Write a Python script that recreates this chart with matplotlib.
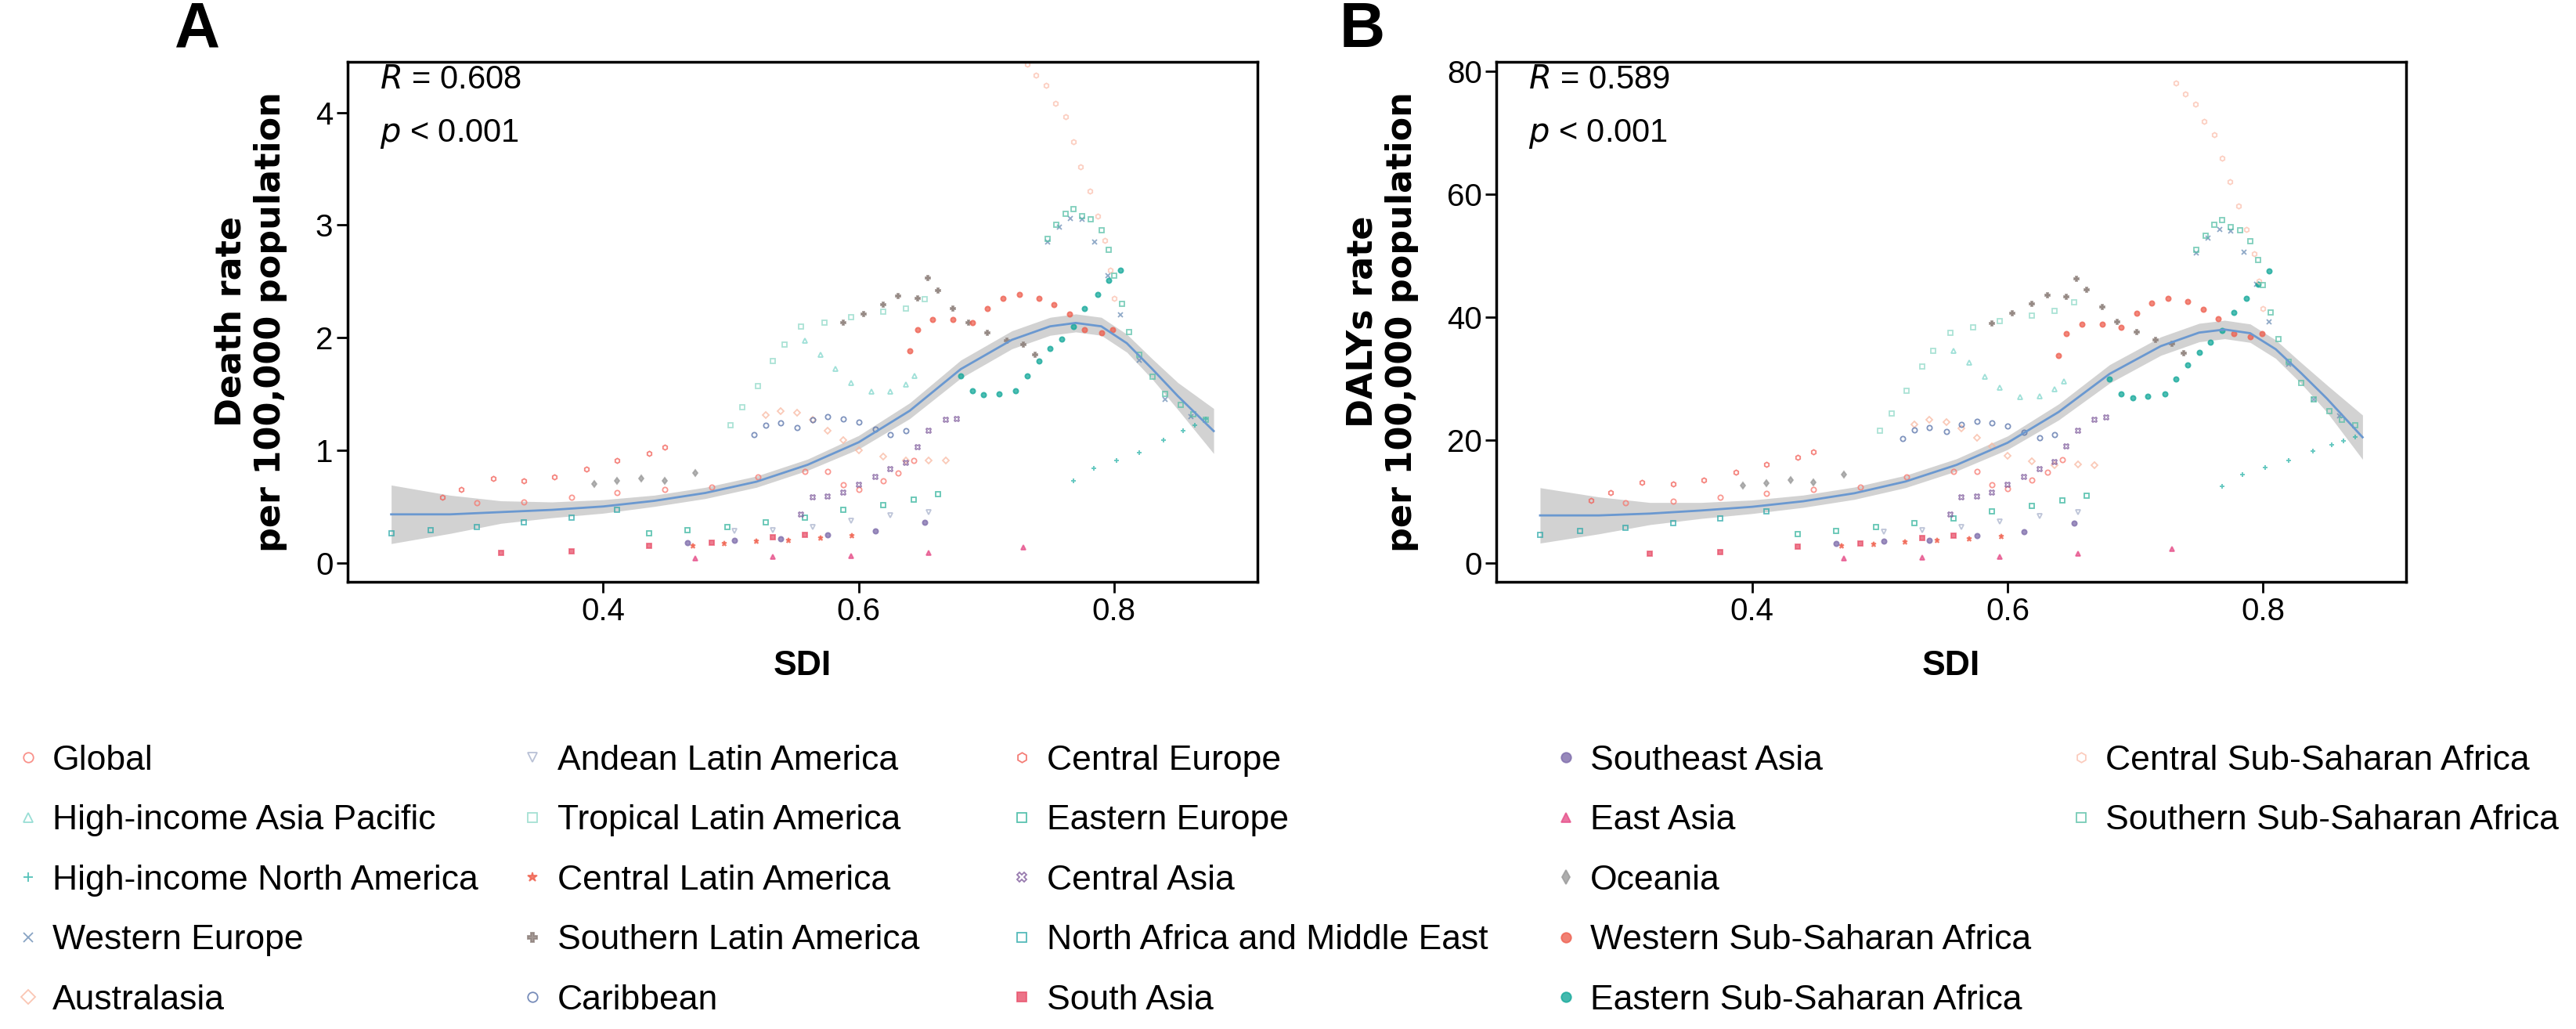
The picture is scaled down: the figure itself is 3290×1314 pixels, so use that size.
import matplotlib.pyplot as plt
import numpy as np

plt.rcParams['font.family'] = ['Liberation Sans', 'DejaVu Sans']

regions = ["Global", "High-income Asia Pacific", "High-income North America", "Western Europe",
           "Australasia", "Andean Latin America", "Tropical Latin America", "Central Latin America",
           "Southern Latin America", "Caribbean", "Central Europe", "Eastern Europe", "Central Asia",
           "North Africa and Middle East", "South Asia", "Southeast Asia", "East Asia", "Oceania",
           "Western Sub-Saharan Africa", "Eastern Sub-Saharan Africa", "Central Sub-Saharan Africa",
           "Southern Sub-Saharan Africa"]
colors = ["#F8766D", "#7FD6CB", "#2BB3A8", "#6A8CB5", "#F9B8A0", "#A8B2CC", "#8FD9C8", "#F0604D",
          "#8C7F7A", "#5570A8", "#F25C54", "#30B39B", "#7E5A9B", "#2AA8A8", "#E8506A", "#7D6BAA",
          "#E6508A", "#999999", "#EE6050", "#14A89A", "#FBC0AE", "#55BFA5"]
markers = ["o", "^", "+", "x", "D", "v", "s", "*", "P", "o", "h", "s", "X", "s", "s", "o", "^", "d",
           "o", "o", "h", "s"]
hollow = [True, True, False, False, True, True, True, False, False, True, True, True, True, True,
          False, False, False, False, False, False, True, True]
legend_cols = [regions[0:5], regions[5:10], regions[10:15], regions[15:20], regions[20:22]]

# SDI per region
sdi = {
    "Global": [.301, .338, .375, .411, .448, .485, .521, .558, .576, .588, .600, .619, .631, .643],
    "High-income Asia Pacific": [.558, .570, .582, .594, .610, .625, .637, .644],
    "High-income North America": [.768, .784, .802, .820, .839, .854, .863, .872],
    "Western Europe": [.748, .757, .766, .775, .785, .795, .805, .820, .840, .860],
    "Australasia": [.527, .539, .552, .564, .576, .588, .600, .619, .637, .655, .668],
    "Andean Latin America": [.503, .533, .564, .594, .625, .655],
    "Tropical Latin America": [.500, .509, .521, .533, .542, .555, .573, .594, .619, .637, .652],
    "Central Latin America": [.470, .495, .520, .545, .570, .595],
    "Southern Latin America": [.588, .604, .619, .631, .646, .654, .662, .674, .686, .701, .716, .729, .738],
    "Caribbean": [.518, .527, .539, .552, .564, .576, .588, .600, .613, .625, .637],
    "Central Europe": [.274, .289, .314, .338, .362, .387, .411, .436, .448],
    "Eastern Europe": [.436, .466, .497, .527, .558, .588, .619, .643, .662],
    "Central Asia": [.555, .564, .576, .588, .600, .613, .625, .637, .646, .655, .668, .677],
    "North Africa and Middle East": [.234, .265, .301, .338, .375, .411],
    "South Asia": [.320, .375, .436, .485, .533, .558],
    "Southeast Asia": [.466, .503, .539, .576, .613, .652],
    "East Asia": [.472, .533, .594, .655, .729],
    "Oceania": [.393, .411, .430, .448, .472],
    "Western Sub-Saharan Africa": [.640, .646, .658, .674, .689, .701, .713, .726, .741, .753, .765, .777, .790, .799],
    "Eastern Sub-Saharan Africa": [.680, .689, .698, .710, .723, .732, .741, .750, .759, .768, .777, .787, .796, .805],
    "Central Sub-Saharan Africa": [.732, .739, .747, .754, .762, .768, .774, .781, .787, .793, .797, .800],
    "Southern Sub-Saharan Africa": [.748, .755, .762, .768, .775, .782, .790, .796, .800, .806, .812, .820, .830, .840, .852, .862, .872],
}

death = {
    "Global": [.53, .54, .58, .62, .65, .67, .76, .81, .81, .69, .65, .73, .80, .91],
    "High-income Asia Pacific": [1.97, 1.85, 1.72, 1.60, 1.52, 1.52, 1.58, 1.66],
    "High-income North America": [.73, .84, .91, .98, 1.09, 1.17, 1.22, 1.28],
    "Western Europe": [2.85, 2.98, 3.06, 3.05, 2.85, 2.55, 2.20, 1.80, 1.45, 1.30],
    "Australasia": [1.31, 1.35, 1.33, 1.27, 1.17, 1.09, 1.00, .94, .91, .91, .91],
    "Andean Latin America": [.28, .29, .32, .37, .42, .45],
    "Tropical Latin America": [1.22, 1.38, 1.57, 1.79, 1.94, 2.10, 2.13, 2.18, 2.23, 2.26, 2.34],
    "Central Latin America": [.15, .17, .19, .20, .22, .24],
    "Southern Latin America": [2.13, 2.21, 2.29, 2.37, 2.35, 2.53, 2.42, 2.26, 2.13, 2.04, 1.97, 1.94, 1.85],
    "Caribbean": [1.14, 1.22, 1.24, 1.20, 1.27, 1.30, 1.28, 1.25, 1.19, 1.14, 1.17],
    "Central Europe": [.58, .65, .75, .73, .76, .83, .91, .97, 1.03],
    "Eastern Europe": [.26, .29, .32, .36, .40, .47, .51, .56, .61],
    "Central Asia": [.43, .58, .59, .62, .69, .76, .83, .89, 1.03, 1.17, 1.27, 1.28],
    "North Africa and Middle East": [.26, .29, .32, .36, .40, .47],
    "South Asia": [.09, .10, .15, .18, .23, .25],
    "Southeast Asia": [.18, .20, .21, .25, .28, .36],
    "East Asia": [.04, .05, .06, .09, .135],
    "Oceania": [.70, .73, .75, .73, .80],
    "Western Sub-Saharan Africa": [1.88, 2.07, 2.16, 2.16, 2.13, 2.26, 2.35, 2.38, 2.35, 2.29, 2.21, 2.07, 2.04, 2.07],
    "Eastern Sub-Saharan Africa": [1.66, 1.53, 1.49, 1.50, 1.53, 1.66, 1.79, 1.90, 1.99, 2.10, 2.26, 2.38, 2.51, 2.60],
    "Central Sub-Saharan Africa": [4.43, 4.33, 4.24, 4.08, 3.96, 3.74, 3.52, 3.30, 3.08, 2.86, 2.60, 2.35],
    "Southern Sub-Saharan Africa": [2.88, 3.00, 3.10, 3.14, 3.08, 3.05, 2.95, 2.78, 2.55, 2.30, 2.05, 1.85, 1.65, 1.50, 1.40, 1.32, 1.27],
}

dalys = {
    "Global": [9.8, 10.1, 10.7, 11.4, 12.0, 12.4, 14.0, 14.9, 15.0, 12.8, 12.1, 13.5, 14.8, 16.8],
    "High-income Asia Pacific": [34.5, 32.6, 30.4, 28.5, 27.0, 27.2, 28.3, 29.6],
    "High-income North America": [12.5, 14.4, 15.6, 16.7, 18.3, 19.3, 19.9, 20.6],
    "Western Europe": [50.5, 52.8, 54.2, 54.0, 50.6, 45.4, 39.3, 32.4, 26.6, 24.0],
    "Australasia": [22.6, 23.3, 23.0, 22.0, 20.4, 19.0, 17.5, 16.6, 16.0, 16.1, 16.0],
    "Andean Latin America": [5.2, 5.4, 5.9, 6.8, 7.7, 8.3],
    "Tropical Latin America": [21.5, 24.4, 28.0, 32.0, 34.6, 37.5, 38.3, 39.4, 40.3, 41.0, 42.4],
    "Central Latin America": [2.8, 3.1, 3.5, 3.7, 4.0, 4.4],
    "Southern Latin America": [39.0, 40.6, 42.2, 43.6, 43.3, 46.3, 44.5, 41.6, 39.3, 37.6, 36.3, 35.7, 34.1],
    "Caribbean": [20.3, 21.7, 22.1, 21.4, 22.6, 23.1, 22.8, 22.3, 21.3, 20.4, 20.9],
    "Central Europe": [10.2, 11.5, 13.2, 12.9, 13.5, 14.8, 16.1, 17.2, 18.1],
    "Eastern Europe": [4.8, 5.3, 5.9, 6.6, 7.3, 8.5, 9.3, 10.2, 11.0],
    "Central Asia": [8.0, 10.7, 10.9, 11.5, 12.8, 14.0, 15.3, 16.5, 19.0, 21.6, 23.4, 23.7],
    "North Africa and Middle East": [4.7, 5.3, 5.8, 6.5, 7.3, 8.5],
    "South Asia": [1.6, 1.8, 2.7, 3.2, 4.1, 4.5],
    "Southeast Asia": [3.3, 3.6, 3.8, 4.5, 5.1, 6.5],
    "East Asia": [0.8, 0.9, 1.1, 1.6, 2.4],
    "Oceania": [12.6, 13.1, 13.5, 13.2, 14.4],
    "Western Sub-Saharan Africa": [33.8, 37.3, 38.9, 38.9, 38.4, 40.7, 42.3, 43.0, 42.5, 41.3, 39.8, 37.3, 36.8, 37.3],
    "Eastern Sub-Saharan Africa": [29.9, 27.6, 26.9, 27.1, 27.6, 30.0, 32.3, 34.3, 35.9, 37.9, 40.8, 43.0, 45.4, 47.5],
    "Central Sub-Saharan Africa": [78.0, 76.3, 74.6, 71.8, 69.7, 65.8, 62.0, 58.1, 54.2, 50.3, 45.8, 41.4],
    "Southern Sub-Saharan Africa": [51.0, 53.2, 55.0, 55.8, 54.7, 54.1, 52.3, 49.3, 45.2, 40.8, 36.4, 32.8, 29.3, 26.6, 24.8, 23.4, 22.5],
}

fit_x = [.234, .28, .32, .36, .40, .44, .48, .52, .56, .60, .64, .68, .72, .75, .77, .79, .81, .83, .85, .878]
fit_a = [.43, .43, .45, .47, .50, .55, .62, .72, .87, 1.07, 1.35, 1.72, 1.98, 2.10, 2.13, 2.10, 1.95, 1.72, 1.48, 1.17]
band_a = [.26, .17, .10, .07, .06, .05, .05, .05, .05, .06, .07, .08, .08, .08, .08, .08, .08, .09, .12, .20]
fit_b = [7.8, 7.8, 8.1, 8.6, 9.2, 10.1, 11.4, 13.3, 16.0, 19.6, 24.6, 30.8, 35.3, 37.5, 38.0, 37.4, 34.8, 30.9, 26.8, 20.5]
band_b = [4.5, 3.0, 1.8, 1.3, 1.1, 1.0, 1.0, 1.0, 1.0, 1.1, 1.3, 1.5, 1.5, 1.5, 1.5, 1.5, 1.5, 1.7, 2.2, 3.6]

fig = plt.figure(figsize=(32.9, 13.14), dpi=100)
axA = fig.add_axes([0.135, 0.4345, 0.353, 0.5055])
axB = fig.add_axes([0.581, 0.4345, 0.353, 0.5055])


def style(reg, c, m, h):
    kw = dict(marker=m, linestyle="none", alpha=0.75, label=reg)
    if h:
        kw.update(markerfacecolor="none", markeredgecolor=c, markeredgewidth=1.3)
    else:
        kw.update(color=c, markeredgewidth=1.3)
    return kw


def draw(ax, vals, fx, fy, fb, ylim, yticks, ylabel, r_txt, letter, lx):
    handles = {}
    for reg, c, m, h in zip(regions, colors, markers, hollow):
        ln, = ax.plot(sdi[reg], vals[reg], markersize=4.5, **style(reg, c, m, h))
        handles[reg] = ln
    fx = np.array(fx); fy = np.array(fy); fb = np.array(fb)
    ax.fill_between(fx, fy - fb, fy + fb, color="#B5B5B5", alpha=0.6, lw=0)
    ax.plot(fx, fy, color="#6A98D0", lw=2)
    ax.set_xlim(0.2, 0.912)
    ax.set_ylim(*ylim)
    ax.set_xticks([0.4, 0.6, 0.8])
    ax.set_yticks(yticks)
    ax.tick_params(labelsize=29, length=10, width=2)
    for s in ax.spines.values():
        s.set_linewidth(2.5)
    ax.set_xlabel("SDI", fontsize=32, fontweight="bold", labelpad=22)
    ax.set_ylabel(ylabel, fontsize=32, fontweight="bold", family="DejaVu Sans", labelpad=26)
    ax.text(0.035, 0.965, r"$\it{R}$ = " + r_txt, transform=ax.transAxes, fontsize=30, va="center")
    ax.text(0.035, 0.862, r"$\it{p}$ < 0.001", transform=ax.transAxes, fontsize=30, va="center")
    ax.text(lx, 1.06, letter, transform=ax.transAxes, fontsize=58, fontweight="bold", va="center")
    return handles


handles = draw(axA, death, fit_x, fit_a, band_a, (-0.17, 4.45), [0, 1, 2, 3, 4],
               "Death rate\nper 100,000 population", "0.608", "A", -0.19)
draw(axB, dalys, fit_x, fit_b, band_b, (-3, 81.5), [0, 20, 40, 60, 80],
     "DALYs rate\nper 100,000 population", "0.589", "B", -0.173)

col_x = [0.0, 0.196, 0.386, 0.597, 0.797]
for x, names in zip(col_x, legend_cols):
    leg = fig.legend(handles=[handles[n] for n in names], loc="upper left", bbox_to_anchor=(x, 0.29),
                     frameon=False, fontsize=32, markerscale=2.0, handletextpad=0.3, handlelength=0.8,
                     labelspacing=0.8, borderaxespad=0)
    for lh in leg.legend_handles:
        lh.set_alpha(0.8)

plt.savefig("out.png", dpi=100)
